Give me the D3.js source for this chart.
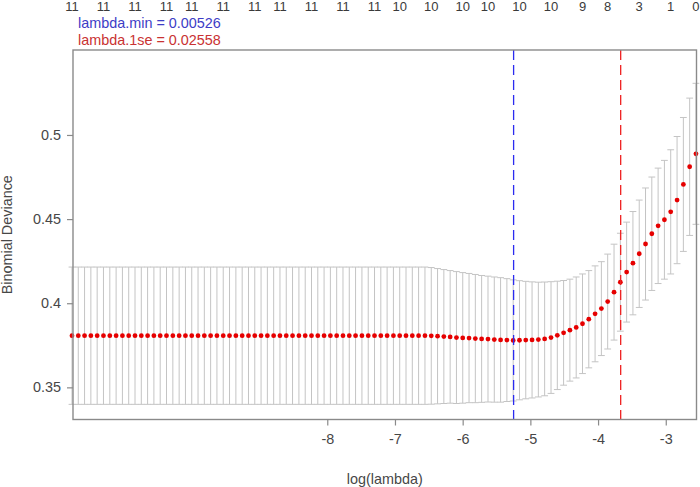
<!DOCTYPE html>
<html>
<head>
<meta charset="utf-8">
<script src="https://cdn.jsdelivr.net/npm/d3@7"></script>
<style>
  html, body { margin: 0; padding: 0; background: #fff; }
  svg { display: block; font-family: "Liberation Sans", Arial, Helvetica, sans-serif; }
</style>
</head>
<body>
<svg id="chart" width="700" height="487"></svg>
<script>
// ── Data ──────────────────────────────────────────────────

// log(lambda) for the 100 fitted lambdas, smallest first
const logLambda = [
  -11.771, -11.678, -11.585, -11.492, -11.399, -11.306, -11.212, -11.119, -11.026, -10.933,
  -10.840, -10.747, -10.654, -10.561, -10.468, -10.375, -10.281, -10.188, -10.095, -10.002,
  -9.909, -9.816, -9.723, -9.630, -9.537, -9.444, -9.350, -9.257, -9.164, -9.071,
  -8.978, -8.885, -8.792, -8.699, -8.606, -8.513, -8.419, -8.326, -8.233, -8.140,
  -8.047, -7.954, -7.861, -7.768, -7.675, -7.582, -7.488, -7.395, -7.302, -7.209,
  -7.116, -7.023, -6.930, -6.837, -6.744, -6.651, -6.557, -6.464, -6.371, -6.278,
  -6.185, -6.092, -5.999, -5.906, -5.813, -5.720, -5.626, -5.533, -5.440, -5.347,
  -5.254, -5.161, -5.068, -4.975, -4.882, -4.789, -4.695, -4.602, -4.509, -4.416,
  -4.323, -4.230, -4.137, -4.044, -3.951, -3.858, -3.764, -3.671, -3.578, -3.485,
  -3.392, -3.299, -3.206, -3.113, -3.020, -2.927, -2.833, -2.740, -2.647, -2.554
];

// mean cross-validated binomial deviance
const cvm = [
  0.3807, 0.3807, 0.3807, 0.3807, 0.3807, 0.3807, 0.3807, 0.3807, 0.3807, 0.3807,
  0.3807, 0.3807, 0.3807, 0.3807, 0.3807, 0.3807, 0.3807, 0.3807, 0.3807, 0.3807,
  0.3807, 0.3807, 0.3807, 0.3807, 0.3807, 0.3807, 0.3807, 0.3807, 0.3807, 0.3807,
  0.3807, 0.3807, 0.3807, 0.3807, 0.3807, 0.3807, 0.3807, 0.3807, 0.3807, 0.3807,
  0.3807, 0.3807, 0.3807, 0.3807, 0.3807, 0.3807, 0.3807, 0.3807, 0.3807, 0.3807,
  0.3807, 0.3807, 0.3807, 0.3807, 0.3807, 0.3807, 0.3807, 0.3806, 0.3804, 0.3802,
  0.3800, 0.3796, 0.3794, 0.3793, 0.3790, 0.3788, 0.3787, 0.3784, 0.3782, 0.3781,
  0.3779, 0.3780, 0.3781, 0.3782, 0.3784, 0.3788, 0.3796, 0.3809, 0.3824, 0.3840,
  0.3856, 0.3878, 0.3905, 0.3937, 0.3968, 0.4010, 0.4066, 0.4125, 0.4185, 0.4238,
  0.4294, 0.4352, 0.4413, 0.4460, 0.4496, 0.4543, 0.4613, 0.4706, 0.4811, 0.4888
];

// standard error of the deviance
const cvsd = [
  0.0408, 0.0408, 0.0408, 0.0408, 0.0408, 0.0408, 0.0408, 0.0408, 0.0408, 0.0408,
  0.0408, 0.0408, 0.0408, 0.0408, 0.0408, 0.0408, 0.0408, 0.0408, 0.0408, 0.0408,
  0.0408, 0.0408, 0.0408, 0.0408, 0.0408, 0.0408, 0.0408, 0.0408, 0.0408, 0.0408,
  0.0408, 0.0408, 0.0408, 0.0408, 0.0408, 0.0408, 0.0408, 0.0408, 0.0408, 0.0408,
  0.0408, 0.0408, 0.0408, 0.0408, 0.0408, 0.0408, 0.0408, 0.0408, 0.0408, 0.0408,
  0.0408, 0.0408, 0.0408, 0.0408, 0.0408, 0.0408, 0.0408, 0.0406, 0.0402, 0.0398,
  0.0394, 0.0392, 0.0388, 0.0384, 0.0381, 0.0377, 0.0374, 0.0372, 0.0370, 0.0365,
  0.0360, 0.0354, 0.0349, 0.0345, 0.0341, 0.0338, 0.0332, 0.0322, 0.0311, 0.0303,
  0.0300, 0.0296, 0.0289, 0.0285, 0.0279, 0.0282, 0.0285, 0.0291, 0.0297, 0.0307,
  0.0319, 0.0333, 0.0337, 0.0343, 0.0353, 0.0369, 0.0378, 0.0398, 0.0408, 0.0419
];

// number of non-zero coefficients shown on the top axis (index into logLambda)
const nzIndex  = [0, 5, 10, 15, 19, 24, 29, 33, 38, 43, 48, 52, 57, 62, 66, 71, 76, 81, 85, 90, 95, 99];
const nzLabels = ['11', '11', '11', '11', '11', '11', '11', '11', '11', '11', '11',
                  '10', '10', '10', '10', '10', '10', '9', '8', '3', '1', '0'];

const lambdaMin = 0.00526;
const lambda1se = 0.02558;

const xTicks = [-8, -7, -6, -5, -4, -3];
const yTicks = [0.35, 0.4, 0.45, 0.5];

// ── Layout ────────────────────────────────────────────────

const W = 700, H = 487;
const box = { left: 73, top: 50, right: 696.5, bottom: 419.5 };
const fontSize = 14.4;

const colors = {
  frame: '#8a8a8a',
  text:  '#474747',
  bars:  '#c4c4c4',
  dots:  '#e60000',
  vMin:  '#2b2bf0',
  v1se:  '#ee2020',
  tMin:  '#3d3dc6',
  t1se:  '#c93232',
};

const x = d3.scaleLinear().domain([-11.756, -2.546]).range([box.left, box.right]);
const y = d3.scaleLinear().domain([0.3309, 0.5505]).range([box.bottom, box.top]);

const pts = logLambda.map((l, i) => ({ l, m: cvm[i], s: cvsd[i] }));

const svg = d3.select('#chart');
svg.append('rect').attr('width', W).attr('height', H).attr('fill', '#fff');

// ── Error bars ────────────────────────────────────────────

const capHalf = 3.4;
const bars = svg.append('g').attr('stroke', colors.bars).attr('stroke-width', 1);

bars.selectAll('line.bar')
  .data(pts)
  .join('line')
  .attr('class', 'bar')
  .attr('x1', d => x(d.l)).attr('x2', d => x(d.l))
  .attr('y1', d => y(d.m + d.s)).attr('y2', d => y(d.m - d.s));

bars.selectAll('line.cap-up')
  .data(pts)
  .join('line')
  .attr('class', 'cap-up')
  .attr('x1', d => x(d.l) - capHalf).attr('x2', d => x(d.l) + capHalf)
  .attr('y1', d => y(d.m + d.s)).attr('y2', d => y(d.m + d.s));

bars.selectAll('line.cap-lo')
  .data(pts)
  .join('line')
  .attr('class', 'cap-lo')
  .attr('x1', d => x(d.l) - capHalf).attr('x2', d => x(d.l) + capHalf)
  .attr('y1', d => y(d.m - d.s)).attr('y2', d => y(d.m - d.s));

// ── Mean points ───────────────────────────────────────────

svg.append('g')
  .selectAll('circle')
  .data(pts)
  .join('circle')
  .attr('cx', d => x(d.l))
  .attr('cy', d => y(d.m))
  .attr('r', 2.4)
  .attr('fill', colors.dots);

// ── lambda.min / lambda.1se lines ─────────────────────────

[[lambdaMin, colors.vMin], [lambda1se, colors.v1se]].forEach(([lam, col]) => {
  svg.append('line')
    .attr('x1', x(Math.log(lam))).attr('x2', x(Math.log(lam)))
    .attr('y1', box.top).attr('y2', box.bottom)
    .attr('stroke', col)
    .attr('stroke-width', 1.3)
    .attr('stroke-dasharray', '10,5');
});

// ── Frame ─────────────────────────────────────────────────

svg.append('rect')
  .attr('x', box.left).attr('y', box.top)
  .attr('width', box.right - box.left).attr('height', box.bottom - box.top)
  .attr('fill', 'none')
  .attr('stroke', colors.frame)
  .attr('stroke-width', 1.4);

// ── Axes ──────────────────────────────────────────────────

function styleAxis(g) {
  g.select('.domain').remove();
  g.selectAll('.tick line').attr('stroke', colors.frame).attr('stroke-width', 1.2);
  g.selectAll('.tick text')
    .attr('fill', colors.text)
    .attr('font-size', fontSize)
    .attr('font-family', '"Liberation Sans", Arial, sans-serif');
}

// R-style labels: plain hyphen minus, no trailing zeros
const plain = d => String(d);

svg.append('g')
  .attr('transform', `translate(0,${box.bottom})`)
  .call(d3.axisBottom(x).tickValues(xTicks).tickSize(6).tickPadding(8.5).tickFormat(plain))
  .call(styleAxis);

svg.append('g')
  .attr('transform', `translate(${box.left},0)`)
  .call(d3.axisLeft(y).tickValues(yTicks).tickSize(6).tickPadding(6).tickFormat(plain))
  .call(styleAxis);

// Top axis: non-zero coefficient counts
svg.append('g')
  .selectAll('text')
  .data(nzIndex)
  .join('text')
  .attr('x', i => x(logLambda[i]))
  .attr('y', 10.5)
  .attr('text-anchor', 'middle')
  .attr('font-size', 13)
  .attr('fill', '#3a3a3a')
  .text((i, k) => nzLabels[k]);

// ── Titles / annotations ─────────────────────────────────

svg.append('text')
  .attr('x', (box.left + box.right) / 2)
  .attr('y', 483.5)
  .attr('text-anchor', 'middle')
  .attr('font-size', fontSize)
  .attr('fill', colors.text)
  .text('log(lambda)');

svg.append('text')
  .attr('transform', `translate(12,${(box.top + box.bottom) / 2}) rotate(-90)`)
  .attr('text-anchor', 'middle')
  .attr('font-size', fontSize)
  .attr('fill', colors.text)
  .text('Binomial Deviance');

svg.append('text')
  .attr('x', 78).attr('y', 28.3)
  .attr('font-size', fontSize)
  .attr('fill', colors.tMin)
  .text(`lambda.min = ${lambdaMin}`);

svg.append('text')
  .attr('x', 78).attr('y', 44.6)
  .attr('font-size', fontSize)
  .attr('fill', colors.t1se)
  .text(`lambda.1se = ${lambda1se}`);
</script>
</body>
</html>
